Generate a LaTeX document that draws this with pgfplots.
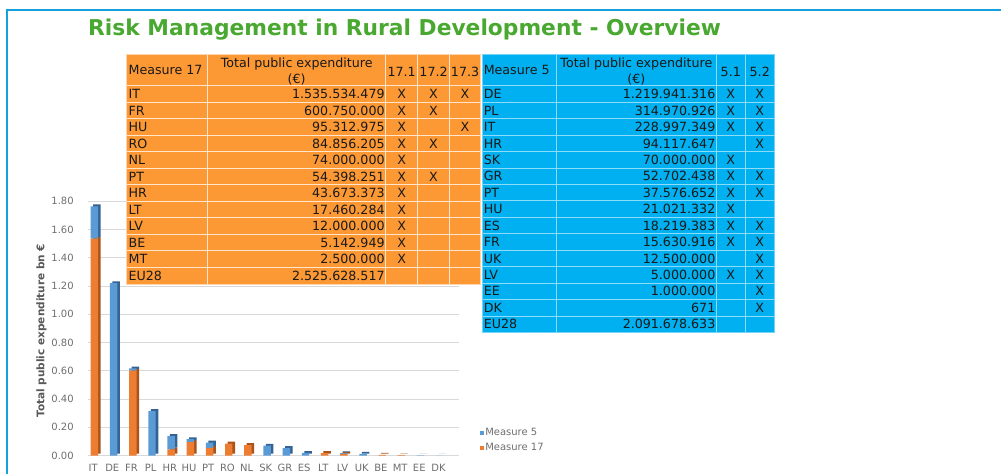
\documentclass[border=0pt]{standalone}
\usepackage{pgfplots}
\usepackage{pgfplotstable}
\pgfplotsset{compat=1.18}
\usepackage{fontspec}
\setmainfont{DejaVu Sans}
\definecolor{ttl}{RGB}{72,168,48}
\definecolor{framec}{RGB}{20,162,220}
\definecolor{org}{RGB}{253,153,52}
\definecolor{blu}{RGB}{0,176,240}
\definecolor{mblue}{RGB}{91,155,213}
\definecolor{morange}{RGB}{237,125,49}
\definecolor{dblue}{RGB}{52,98,148}
\definecolor{dorange}{RGB}{168,84,26}
\definecolor{txt}{RGB}{25,25,25}
\definecolor{tickc}{RGB}{110,110,110}
\definecolor{labc}{RGB}{89,89,89}
\definecolor{gridc}{RGB}{217,217,217}

\pgfplotstableread{
x c m17 m5
0 IT 1.535534 0.228997
1 DE 0 1.219941
2 FR 0.600750 0.015631
3 PL 0 0.314971
4 HR 0.043673 0.094118
5 HU 0.095313 0.021021
6 PT 0.054398 0.037577
7 RO 0.084856 0
8 NL 0.074 0
9 SK 0 0.070
10 GR 0 0.052702
11 ES 0 0.018219
12 LT 0.017460 0
13 LV 0.012 0.005
14 UK 0 0.0125
15 BE 0.005143 0
16 MT 0.0025 0
17 EE 0 0.001
18 DK 0 0.000000671
}\datatab

\pgfplotsset{
  base/.style={scale only axis, width=278.6pt, height=190.9pt,
    xmin=-0.34, xmax=19, ymin=0, ymax=1.8,
    anchor=south west, ybar stacked, bar width=5.6pt},
  sq legend/.style={legend image code/.code={\fill[##1] (0pt,-1.6pt) rectangle (3.2pt,1.6pt);}},
}
\tikzset{
  tt/.style={inner sep=0pt, text height=6.9pt, text depth=0pt, text=txt, font=\fontsize{9.5pt}{11pt}\selectfont},
}

\newcommand\orow[6]{%
  \pgfmathsetmacro\yy{85.7+16.55*(#1+0.5)}%
  \node[tt,anchor=west] at (128.5,\yy) {#2};
  \node[tt,anchor=east] at (385.3,\yy) {#3};
  \node[tt] at (402,\yy) {#4};
  \node[tt] at (434,\yy) {#5};
  \node[tt] at (465.5,\yy) {#6};
}
\newcommand\brow[5]{%
  \pgfmathsetmacro\yy{86+16.45*(#1+0.5)}%
  \node[tt,anchor=west] at (484,\yy) {#2};
  \node[tt,anchor=east] at (716.3,\yy) {#3};
  \node[tt] at (731.5,\yy) {#4};
  \node[tt] at (760.5,\yy) {#5};
}

\begin{document}
\begin{tikzpicture}
\begin{scope}[x=0.75pt,y=-0.75pt]
\useasboundingbox (0,0) rectangle (1002,474);
\end{scope}

% background axis: grid, ticks, labels
\begin{axis}[base, at={(66pt,-342pt)},
  axis line style={draw=none}, major tick style={draw=none},
  ymajorgrids, grid style={gridc, line width=0.6pt},
  ytick={0,0.2,0.4,0.6,0.8,1,1.2,1.4,1.6,1.8},
  xtick={0,...,18},
  xticklabels={IT,DE,FR,PL,HR,HU,PT,RO,NL,SK,GR,ES,LT,LV,UK,BE,MT,EE,DK},
  /pgf/number format/assume math mode=true,
  yticklabel style={/pgf/number format/fixed, /pgf/number format/fixed zerofill, /pgf/number format/precision=2},
  ticklabel style={font=\fontsize{7.5pt}{8pt}\selectfont, text=tickc, inner sep=0pt},
  yticklabel style={xshift=-10.5pt},
  xticklabel style={yshift=-6.3pt, xshift=-1pt},
]
\addplot[draw=none, fill=none, forget plot] table[x=x,y=m17]{\datatab};
\end{axis}

% shadow (side/top) of the bars
\begin{axis}[base, at={(67.9pt,-340.6pt)}, hide axis]
\addplot[draw=none, fill=dorange] table[x=x,y=m17]{\datatab};
\addplot[draw=none, fill=dblue] table[x=x,y=m5]{\datatab};
\end{axis}

% front faces of the bars
\begin{axis}[base, at={(66pt,-342pt)}, hide axis,
  reverse legend,
  legend style={at={(1.055,0.059)}, anchor=west, draw=none, fill=none,
    font=\fontsize{7.5pt}{8pt}\selectfont, text=tickc, row sep=2.4pt,
    inner sep=0pt, nodes={inner sep=1pt}},
  legend cell align=left]
\addplot[draw=none, fill=morange, sq legend] table[x=x,y=m17]{\datatab};
\addplot[draw=none, fill=mblue, sq legend] table[x=x,y=m5]{\datatab};
\legend{Measure 17, Measure 5}
\end{axis}

\begin{scope}[x=0.75pt,y=-0.75pt]
% frame
\draw[framec, line width=1.5pt] (1002,10) -- (7,10);
\draw[framec, line width=1.1pt] (7,9.3) -- (7,474);
% title
\node[anchor=base west, inner sep=0pt, text=ttl] at (88,35.5)
  {\resizebox{475pt}{!}{\bfseries Risk Management in Rural Development - Overview}};
% y label
\node[rotate=90, text=labc, font=\bfseries\fontsize{7.9pt}{9pt}\selectfont, inner sep=0pt]
  at (41.5,331) {Total public expenditure bn €};

% ---------- Measure 17 table ----------
\fill[org] (127,54) rectangle (481,284.3);
\foreach \xx in {208,386,418,450} \draw[white!75!org, line width=0.7pt] (\xx,54) -- (\xx,284.3);
\foreach \i in {0,...,11} \draw[white!75!org, line width=0.7pt] (127,{85.7+16.55*\i}) -- (481,{85.7+16.55*\i});
\draw[white!60!org, line width=0.6pt] (127,54) rectangle (481,284.3);
\node[tt,anchor=west] at (128.5,70) {Measure 17};
\node[tt] at (297,63) {Total public expenditure};
\node[tt] at (297,78.5) {(€)};
\node[tt] at (402,71.5) {17.1};
\node[tt] at (434,71.5) {17.2};
\node[tt] at (465.5,71.5) {17.3};
\orow{0}{IT}{1.535.534.479}{X}{X}{X}
\orow{1}{FR}{600.750.000}{X}{X}{}
\orow{2}{HU}{95.312.975}{X}{}{X}
\orow{3}{RO}{84.856.205}{X}{X}{}
\orow{4}{NL}{74.000.000}{X}{}{}
\orow{5}{PT}{54.398.251}{X}{X}{}
\orow{6}{HR}{43.673.373}{X}{}{}
\orow{7}{LT}{17.460.284}{X}{}{}
\orow{8}{LV}{12.000.000}{X}{}{}
\orow{9}{BE}{5.142.949}{X}{}{}
\orow{10}{MT}{2.500.000}{X}{}{}
\orow{11}{EU28}{2.525.628.517}{}{}{}

% ---------- Measure 5 table ----------
\fill[blu] (483,54) rectangle (775,332.7);
\foreach \xx in {557,717,746} \draw[white!55!blu, line width=0.7pt] (\xx,54) -- (\xx,332.7);
\foreach \i in {0,...,14} \draw[white!55!blu, line width=0.7pt] (483,{86+16.45*\i}) -- (775,{86+16.45*\i});
\draw[white!45!blu, line width=0.6pt] (483,54) rectangle (775,332.7);
\node[tt,anchor=west] at (484,70) {Measure 5};
\node[tt] at (637,63) {Total public expenditure};
\node[tt] at (637,78.5) {(€)};
\node[tt] at (731.5,71.5) {5.1};
\node[tt] at (760.5,71.5) {5.2};
\brow{0}{DE}{1.219.941.316}{X}{X}
\brow{1}{PL}{314.970.926}{X}{X}
\brow{2}{IT}{228.997.349}{X}{X}
\brow{3}{HR}{94.117.647}{}{X}
\brow{4}{SK}{70.000.000}{X}{}
\brow{5}{GR}{52.702.438}{X}{X}
\brow{6}{PT}{37.576.652}{X}{X}
\brow{7}{HU}{21.021.332}{X}{}
\brow{8}{ES}{18.219.383}{X}{X}
\brow{9}{FR}{15.630.916}{X}{X}
\brow{10}{UK}{12.500.000}{}{X}
\brow{11}{LV}{5.000.000}{X}{X}
\brow{12}{EE}{1.000.000}{}{X}
\brow{13}{DK}{671}{}{X}
\brow{14}{EU28}{2.091.678.633}{}{}
\end{scope}
\end{tikzpicture}
\end{document}
